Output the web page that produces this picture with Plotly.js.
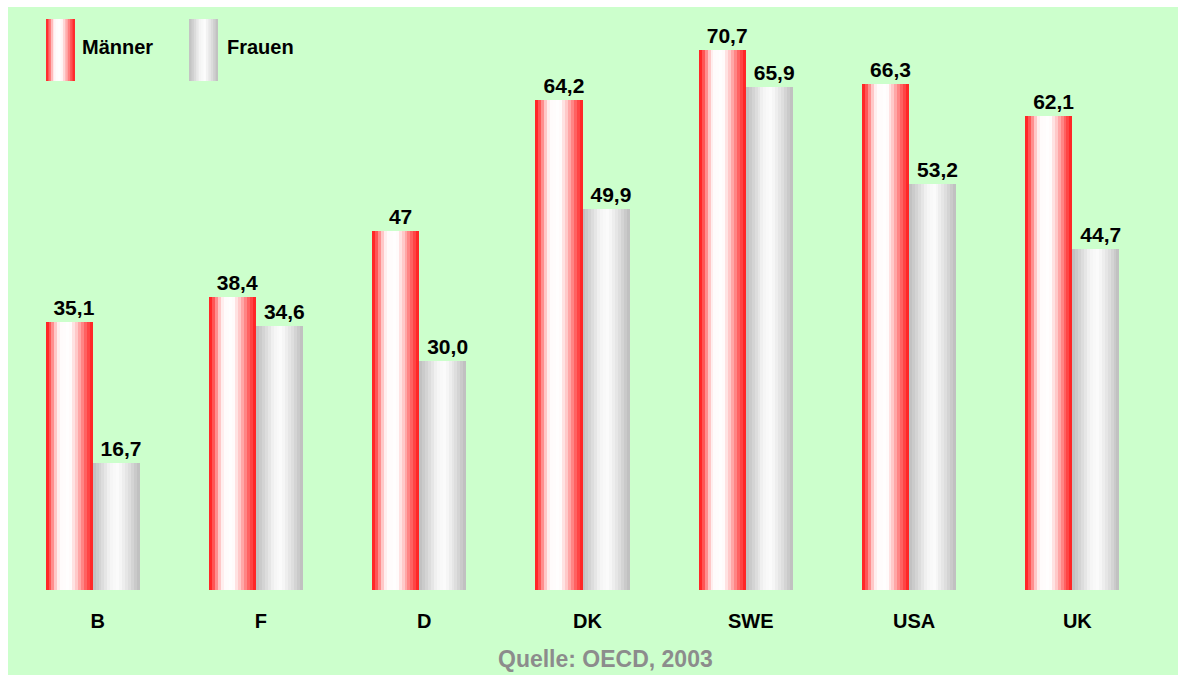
<!DOCTYPE html>
<html>
<head>
<meta charset="utf-8">
<script src="https://cdn.plot.ly/plotly-3.0.1.min.js"></script>
<style>
  html, body { margin: 0; padding: 0; background: #ffffff; }
  #chart { position: absolute; left: 8px; top: 7px; width: 1170px; height: 668px; }
</style>
</head>
<body>
<div id="chart"></div>
<script>
// ---- data ----
const categories = ['B', 'F', 'D', 'DK', 'SWE', 'USA', 'UK'];
const maenner = [35.1, 38.4, 47, 64.2, 70.7, 66.3, 62.1];
const frauen = [16.7, 34.6, 30.0, 49.9, 65.9, 53.2, 44.7];
const maennerLabels = ['35,1', '38,4', '47', '64,2', '70,7', '66,3', '62,1'];
const frauenLabels = ['16,7', '34,6', '30,0', '49,9', '65,9', '53,2', '44,7'];
const seriesNames = ['Männer', 'Frauen'];
const sourceText = 'Quelle: OECD, 2003';

// ---- styling ----
const W = 1170, H = 668;
const M = { l: 3, r: 24, t: 10, b: 85 };
const plotW = W - M.l - M.r, plotH = H - M.t - M.b;
const FONT = 'Liberation Sans, Arial, Helvetica, sans-serif';
const barW = 0.288;
const N = 16;

const redStops = [[0, [255, 16, 16]], [0.1, [255, 90, 90]], [0.22, [255, 200, 200]], [0.3, [255, 250, 250]],
                  [0.52, [255, 255, 255]], [0.66, [255, 200, 200]], [0.84, [255, 100, 100]], [1, [255, 24, 24]]];
const grayStops = [[0, [190, 190, 190]], [0.18, [215, 215, 215]], [0.38, [245, 245, 245]], [0.55, [252, 252, 252]],
                   [0.78, [222, 222, 222]], [1, [188, 188, 188]]];

function grad(stops, f) {
  for (let i = 0; i < stops.length - 1; i++) {
    const a = stops[i], b = stops[i + 1];
    if (f >= a[0] && f <= b[0]) {
      const t = (f - a[0]) / (b[0] - a[0] || 1);
      const c = a[1].map((v, j) => Math.round(v + (b[1][j] - v) * t));
      return 'rgb(' + c.join(',') + ')';
    }
  }
  return 'rgb(' + stops[stops.length - 1][1].join(',') + ')';
}

const traces = [];
function addSeries(values, labels, start, stops, name) {
  const s = barW / N;
  for (let k = 0; k < N; k++) {
    const off = start + k * s;
    const w = Math.min(s * 1.6, start + barW - off);
    traces.push({
      type: 'bar', x: categories, y: values, name: name,
      offset: off, width: w,
      marker: { color: grad(stops, (k + 0.5) / N), line: { width: 0 } },
      showlegend: false, hoverinfo: 'skip'
    });
  }
  // label carrier (transparent)
  traces.push({
    type: 'bar', x: categories, y: values, name: name,
    offset: start + 0.03, width: barW,
    marker: { color: 'rgba(0,0,0,0)', line: { width: 0 } },
    text: labels, textposition: 'outside', cliponaxis: false, constraintext: 'none',
    textfont: { family: FONT, size: 21, color: '#000000', weight: 'bold' },
    showlegend: false, hoverinfo: 'skip'
  });
}
addSeries(maenner, maennerLabels, -barW, redStops, seriesNames[0]);
addSeries(frauen, frauenLabels, 0, grayStops, seriesNames[1]);

// legend swatches (pixel -> paper)
const px = x => (x - M.l) / plotW;
const py = y => 1 - (y - M.t) / plotH;
const shapes = [];
function swatch(x0, stops) {
  const sw = 29, ns = 12;
  for (let k = 0; k < ns; k++) {
    shapes.push({
      type: 'rect', xref: 'paper', yref: 'paper', layer: 'above',
      x0: px(x0 + k * sw / ns), x1: px(x0 + (k + 1.3) * sw / ns > x0 + sw ? x0 + sw : x0 + (k + 1.3) * sw / ns),
      y0: py(74), y1: py(12),
      fillcolor: grad(stops, (k + 0.5) / ns), line: { width: 0 }
    });
  }
}
swatch(38, redStops);
swatch(181, grayStops);

const annotations = [
  { xref: 'paper', yref: 'paper', x: px(72), y: py(40), xanchor: 'left', yanchor: 'middle', showarrow: false,
    text: seriesNames[0], font: { family: FONT, size: 20, color: '#000', weight: 'bold' } },
  { xref: 'paper', yref: 'paper', x: px(217), y: py(40), xanchor: 'left', yanchor: 'middle', showarrow: false,
    text: seriesNames[1], font: { family: FONT, size: 20, color: '#000', weight: 'bold' } },
  { xref: 'paper', yref: 'paper', x: px(597), y: py(652), xanchor: 'center', yanchor: 'middle', showarrow: false,
    text: sourceText, font: { family: FONT, size: 23, color: '#8c8c8c', weight: 'bold' } }
];

const layout = {
  width: W, height: H,
  margin: M,
  paper_bgcolor: '#ccffcc', plot_bgcolor: '#ccffcc',
  barmode: 'overlay', bargap: 0,
  showlegend: false,
  xaxis: {
    type: 'category', range: [-0.5, 6.5], showgrid: false, zeroline: false, showline: false,
    ticks: '', ticklabelstandoff: 17, ticklabelshift: 5,
    tickfont: { family: FONT, size: 20, color: '#000', weight: 'bold' }, fixedrange: true
  },
  yaxis: {
    range: [0, 75.08], showgrid: false, zeroline: false, showline: false, showticklabels: false,
    ticks: '', fixedrange: true
  },
  shapes: shapes,
  annotations: annotations
};

Plotly.newPlot('chart', traces, layout, { displayModeBar: false, staticPlot: true });
</script>
</body>
</html>
